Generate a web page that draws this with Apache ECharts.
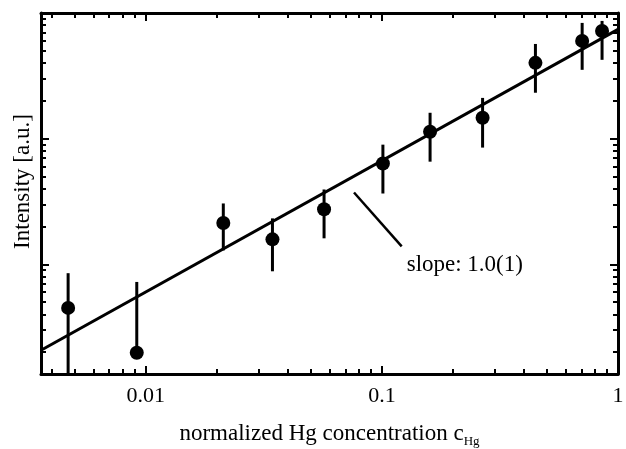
<!DOCTYPE html>
<html>
<head>
<meta charset="utf-8">
<script src="https://cdn.jsdelivr.net/npm/echarts@6/dist/echarts.min.js"></script>
<style>html,body{margin:0;padding:0;background:#fff}#c{width:626px;height:449px}</style>
</head>
<body>
<div id="c"></div>
<script>
// ---- data ----
const concentration = [0.00469, 0.00916, 0.0213, 0.0344, 0.0569, 0.101, 0.160, 0.267, 0.447, 0.705, 0.856];
const intensity     = [4.5, 1.98, 21.3, 15.8, 27.4, 63.4, 113.6, 146.8, 401, 600, 719];
const errLow        = [1.2, 1.98, 12.9, 8.8, 16.1, 36.6, 65.6, 84.9, 232, 353, 424];
const errHigh       = [8.5, 7.24, 30.5, 23.2, 39.4, 89.6, 160.7, 211, 567, 834, 865];
const fitX = [0.0036, 1];
const fitY = [2.07, 740];
const pointerX = [0.0762, 0.1213];
const pointerY = [37.3, 13.9];
const slopeText = 'slope: 1.0(1)';
const slopePos = [0.1213, 9.8];
const xMajor = [0.01, 0.1, 1];
const xMajorLabels = ['0.01', '0.1', '1'];
const yMajor = [10, 100, 1000];
const xMin = 0.0036, xMax = 1;
const yMin = 1.34, yMax = 1000;

function minors(lo, hi) {
  const out = [];
  for (let e = -4; e <= 4; e++) {
    for (let m = 2; m <= 9; m++) {
      const v = m * Math.pow(10, e);
      if (v > lo && v < hi) out.push(v);
    }
  }
  return out;
}
const xMinor = minors(xMin, xMax);
const yMinor = minors(yMin, yMax);

const FONT = 'Liberation Serif';
const lineStyle = { color: '#000', width: 3 };

function axis(dir, pos, ticks, len, main) {
  return {
    type: 'log', logBase: 10, position: pos,
    min: dir === 'x' ? xMin : yMin, max: dir === 'x' ? xMax : yMax,
    axisLine: { show: main, onZero: false, lineStyle: lineStyle },
    axisTick: { show: true, inside: true, length: len, customValues: ticks, lineStyle: { color: '#000', width: 2 } },
    axisLabel: { show: false },
    splitLine: { show: false },
    minorTick: { show: false }, minorSplitLine: { show: false }
  };
}

const xa0 = axis('x', 'bottom', xMajor, 8, true);
xa0.axisLabel = {
  show: true, customValues: xMajor, margin: 11,
  fontFamily: FONT, fontSize: 22, color: '#000',
  formatter: function (v) {
    let best = 0;
    for (let i = 0; i < xMajor.length; i++) if (Math.abs(Math.log10(v) - Math.log10(xMajor[i])) < Math.abs(Math.log10(v) - Math.log10(xMajor[best]))) best = i;
    return xMajorLabels[best];
  }
};
xa0.name = 'normalized Hg concentration c{sub|Hg}';
xa0.nameLocation = 'middle';
xa0.nameGap = 45;
xa0.nameTextStyle = { fontFamily: FONT, fontSize: 23, color: '#000',
  rich: { sub: { fontFamily: FONT, fontSize: 13, color: '#000', padding: [16, 0, 0, 0] } } };

const ya0 = axis('y', 'left', yMajor, 8, true);
ya0.name = 'Intensity [a.u.]';
ya0.nameLocation = 'middle';
ya0.nameGap = 7;
ya0.nameTextStyle = { fontFamily: FONT, fontSize: 23, color: '#000', padding: [0, 0, 0, 24] };

const option = {
  animation: false,
  backgroundColor: '#fff',
  grid: { left: 41, right: 8, top: 13, bottom: 75, containLabel: false, outerBoundsMode: 'none' },
  xAxis: [xa0, axis('x', 'bottom', xMinor, 5, false), axis('x', 'top', xMajor, 8, true), axis('x', 'top', xMinor, 5, false)],
  yAxis: [ya0, axis('y', 'left', yMinor, 5, false), axis('y', 'right', yMajor, 8, true), axis('y', 'right', yMinor, 5, false)],
  series: [
    {
      type: 'line', xAxisIndex: 0, yAxisIndex: 0, symbol: 'none', clip: true,
      data: fitX.map((x, i) => [x, fitY[i]]),
      lineStyle: { color: '#000', width: 3 }, z: 2
    },
    {
      type: 'custom', xAxisIndex: 0, yAxisIndex: 0, clip: true,
      data: concentration.map((x, i) => [x, errLow[i], errHigh[i]]),
      encode: { x: 0, y: [1, 2] },
      renderItem: function (params, api) {
        const p1 = api.coord([api.value(0), api.value(1)]);
        const p2 = api.coord([api.value(0), api.value(2)]);
        return { type: 'line', shape: { x1: p1[0], y1: p1[1], x2: p2[0], y2: p2[1] }, style: { stroke: '#000', lineWidth: 3 } };
      }, z: 3
    },
    {
      type: 'scatter', xAxisIndex: 0, yAxisIndex: 0, symbol: 'circle', symbolSize: 14,
      data: concentration.map((x, i) => [x, intensity[i]]),
      itemStyle: { color: '#000', opacity: 1 }, z: 4
    },
    {
      type: 'line', xAxisIndex: 0, yAxisIndex: 0, symbol: 'none',
      data: pointerX.map((x, i) => [x, pointerY[i]]),
      lineStyle: { color: '#000', width: 2.5 }, z: 2
    },
    {
      type: 'scatter', xAxisIndex: 0, yAxisIndex: 0, symbolSize: 0,
      data: [slopePos],
      itemStyle: { opacity: 1 },
      label: { show: true, position: 'right', distance: 5, formatter: slopeText,
        fontFamily: FONT, fontSize: 23, color: '#000', opacity: 1 }, z: 5
    }
  ]
};
const chart = echarts.init(document.getElementById('c'));
chart.setOption(option);
</script>
</body>
</html>
